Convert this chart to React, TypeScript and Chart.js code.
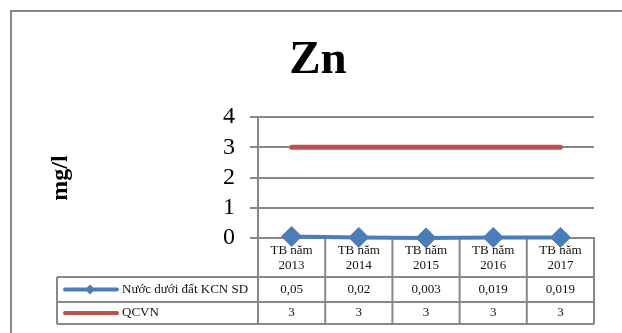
import React, { useEffect, useRef } from "react";
import { Chart, registerables } from "chart.js";

Chart.register(...registerables);

const categories: string[][] = [
  ["TB năm", "2013"],
  ["TB năm", "2014"],
  ["TB năm", "2015"],
  ["TB năm", "2016"],
  ["TB năm", "2017"],
];
const seriesNames = ["Nước dưới đất KCN SD", "QCVN"];
const groundWater = [0.05, 0.02, 0.003, 0.019, 0.019];
const groundWaterLabels = ["0,05", "0,02", "0,003", "0,019", "0,019"];
const qcvn = [3, 3, 3, 3, 3];
const qcvnLabels = ["3", "3", "3", "3", "3"];
const yTicks = [0, 1, 2, 3, 4];
const titleText = "Zn";
const yTitle = "mg/l";

const BLUE = "#4A7EBB";
const RED = "#C0504D";
const GRID = "#878787";
const SERIF = "'Liberation Serif', 'Times New Roman', serif";

const decorPlugin = {
  id: "decor",
  beforeDatasetsDraw(chart: any) {
    const ctx = chart.ctx;
    const x = chart.scales.x;
    const area = chart.chartArea;
    const n = categories.length;
    const w = (area.right - area.left) / n;
    const top = area.bottom;
    const r1 = top + 39;
    const r2 = r1 + 25;
    const r3 = r2 + 22;
    const tableLeft = 57;
    ctx.save();
    ctx.strokeStyle = GRID;
    ctx.lineWidth = 2;
    [r1, r2, r3].forEach((yy) => {
      ctx.beginPath();
      ctx.moveTo(tableLeft, yy);
      ctx.lineTo(area.right, yy);
      ctx.stroke();
    });
    ctx.beginPath();
    ctx.moveTo(tableLeft, r1);
    ctx.lineTo(tableLeft, r3);
    ctx.stroke();
    for (let i = 0; i <= n; i++) {
      const xx = area.left + i * w;
      ctx.beginPath();
      ctx.moveTo(xx, top);
      ctx.lineTo(xx, r3);
      ctx.stroke();
    }
    ctx.fillStyle = "#111";
    ctx.textAlign = "center";
    ctx.textBaseline = "middle";
    ctx.font = `13px ${SERIF}`;
    categories.forEach((lines, i) => {
      const cx = x.getPixelForValue(i);
      ctx.fillText(lines[0], cx, top + 13);
      ctx.fillText(lines[1], cx, top + 28);
      ctx.fillText(groundWaterLabels[i], cx, (r1 + r2) / 2);
      ctx.fillText(qcvnLabels[i], cx, (r2 + r3) / 2);
    });
    ctx.textAlign = "left";
    const y1 = (r1 + r2) / 2;
    const y2 = (r2 + r3) / 2;
    ctx.lineCap = "round";
    ctx.strokeStyle = BLUE;
    ctx.lineWidth = 4;
    ctx.beginPath();
    ctx.moveTo(65, y1);
    ctx.lineTo(117, y1);
    ctx.stroke();
    ctx.fillStyle = BLUE;
    ctx.beginPath();
    ctx.moveTo(90 - 5, y1);
    ctx.lineTo(90, y1 - 5);
    ctx.lineTo(90 + 5, y1);
    ctx.lineTo(90, y1 + 5);
    ctx.closePath();
    ctx.fill();
    ctx.strokeStyle = RED;
    ctx.beginPath();
    ctx.moveTo(65, y2);
    ctx.lineTo(117, y2);
    ctx.stroke();
    ctx.fillStyle = "#111";
    ctx.fillText(seriesNames[0], 122, y1);
    ctx.fillText(seriesNames[1], 122, y2);
    ctx.restore();
  },
  afterDraw(chart: any) {
    const ctx = chart.ctx;
    const area = chart.chartArea;
    ctx.save();
    ctx.strokeStyle = GRID;
    ctx.lineWidth = 2;
    ctx.beginPath();
    ctx.moveTo(area.left, area.bottom);
    ctx.lineTo(area.left, area.bottom + 86);
    ctx.stroke();
    ctx.strokeRect(11, 11, 800, 500);
    ctx.fillStyle = "#000";
    ctx.textAlign = "center";
    ctx.textBaseline = "alphabetic";
    ctx.font = `bold 47px ${SERIF}`;
    ctx.fillText(titleText, 318, 73);
    ctx.translate(61, 178);
    ctx.rotate(-Math.PI / 2);
    ctx.textBaseline = "middle";
    ctx.font = `bold 24px ${SERIF}`;
    ctx.fillText(yTitle, 0, 0);
    ctx.restore();
  },
};

export default function App() {
  const ref = useRef<HTMLCanvasElement | null>(null);
  useEffect(() => {
    if (!ref.current) return;
    const chart = new Chart(ref.current, {
      type: "line",
      data: {
        labels: categories.map((c) => c.join(" ")),
        datasets: [
          {
            label: seriesNames[1],
            data: qcvn,
            borderColor: RED,
            backgroundColor: RED,
            borderWidth: 5,
            borderCapStyle: "round",
            pointRadius: 0,
            pointHoverRadius: 0,
            clip: false,
          },
          {
            label: seriesNames[0],
            data: groundWater,
            borderColor: BLUE,
            backgroundColor: BLUE,
            borderWidth: 4,
            pointStyle: "rectRot",
            pointRadius: 10,
            pointBorderWidth: 1,
            pointBackgroundColor: BLUE,
            pointBorderColor: BLUE,
            clip: false,
          },
        ],
      },
      options: {
        responsive: false,
        animation: false,
        devicePixelRatio: 1,
        layout: { padding: { top: 117, left: 0, right: 28, bottom: 9 } },
        plugins: {
          legend: { display: false },
          title: { display: false },
          tooltip: { enabled: false },
        },
        scales: {
          x: {
            offset: true,
            grid: { display: false },
            border: { display: true, color: GRID, width: 2 },
            ticks: { display: false },
            afterFit: (s: any) => {
              s.height = 86;
            },
          },
          y: {
            min: 0,
            max: 4,
            afterBuildTicks: (s: any) => {
              s.ticks = yTicks.map((v) => ({ value: v }));
            },
            grid: { color: GRID, lineWidth: 2, drawTicks: true, tickLength: 8 },
            border: { display: true, color: GRID, width: 2 },
            ticks: {
              color: "#000",
              padding: 15,
              autoSkip: false,
              font: { family: SERIF, size: 24 },
            },
            afterFit: (s: any) => {
              s.width = 258;
            },
          },
        },
      } as any,
      plugins: [decorPlugin],
    });
    return () => chart.destroy();
  }, []);
  return (
    <div style={{ position: "fixed", left: 0, top: 0, width: 622, height: 333, background: "#fff" }}>
      <canvas ref={ref} width={622} height={333} style={{ display: "block" }} />
    </div>
  );
}
